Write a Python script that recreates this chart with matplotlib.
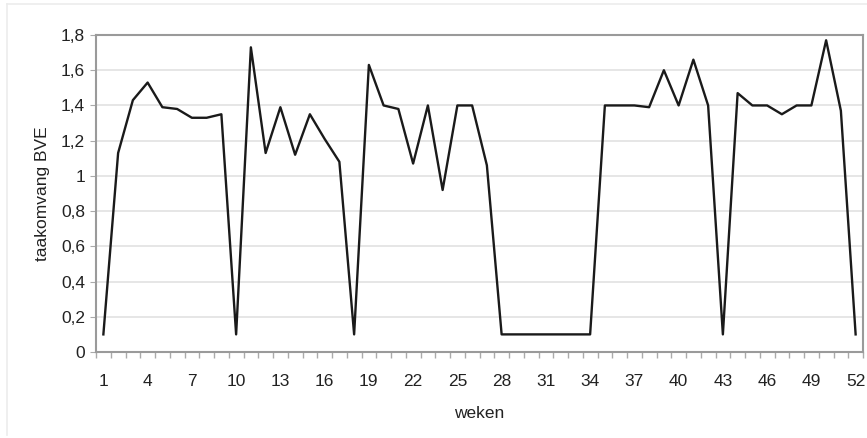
import numpy as np
import matplotlib.pyplot as plt
from matplotlib.ticker import FixedLocator, FuncFormatter
from matplotlib.lines import Line2D

plt.rcParams['font.family'] = ['Liberation Sans', 'DejaVu Sans']

# weekly values
weeks = list(range(1, 53))
bve = [0.10, 1.13, 1.43, 1.53, 1.39, 1.38, 1.33, 1.33, 1.35, 0.10,
       1.73, 1.13, 1.39, 1.12, 1.35, 1.21, 1.08, 0.10, 1.63, 1.40,
       1.38, 1.07, 1.40, 0.92, 1.40, 1.40, 1.06, 0.10, 0.10, 0.10,
       0.10, 0.10, 0.10, 0.10, 1.40, 1.40, 1.40, 1.39, 1.60, 1.40,
       1.66, 1.40, 0.10, 1.47, 1.40, 1.40, 1.35, 1.40, 1.40, 1.77,
       1.37, 0.10]
x_labels = list(range(1, 53, 3))
y_ticks = [0, 0.2, 0.4, 0.6, 0.8, 1.0, 1.2, 1.4, 1.6, 1.8]


def nl_fmt(v, pos):
    s = ('%.1f' % v).replace('.', ',')
    if s.endswith(',0'):
        s = s[:-2]
    return s


def main():
    fig = plt.figure(figsize=(8.67, 4.38), dpi=100)

    # faint outer frame of the original chart area (top and left edge)
    fig.add_artist(Line2D([7 / 867, 7 / 867], [1 - 435 / 438, 1 - 4 / 438],
                          transform=fig.transFigure, color='#ececec', linewidth=1.2))
    fig.add_artist(Line2D([7 / 867, 1.0], [1 - 4 / 438, 1 - 4 / 438],
                          transform=fig.transFigure, color='#ececec', linewidth=1.2))

    ax = fig.add_axes([96 / 867, (438 - 352) / 438, (863 - 96) / 867, (352 - 35) / 438])

    ax.plot(weeks, bve, color='#1a1a1a', linewidth=1.7)

    ax.set_xlim(0.5, 52.5)
    ax.set_ylim(0, 1.8)

    ax.set_yticks(y_ticks)
    ax.yaxis.set_major_formatter(FuncFormatter(nl_fmt))
    ax.set_xticks(x_labels)
    ax.set_xticklabels([str(w) for w in x_labels])
    ax.xaxis.set_minor_locator(FixedLocator(np.arange(0.5, 53, 1)))

    fs = 12.5
    ax.tick_params(axis='x', which='major', length=0, pad=16, labelsize=fs, colors='#222222')
    ax.tick_params(axis='x', which='minor', length=4, color='#aaaaaa', width=1)
    ax.tick_params(axis='y', length=4, color='#aaaaaa', labelsize=fs, colors='#222222', pad=4)

    ax.grid(axis='y', color='#e2e2e2', linewidth=1.2)
    ax.set_axisbelow(True)
    for sp in ax.spines.values():
        sp.set_color('#9a9a9a')
        sp.set_linewidth(1.5)

    ax.set_xlabel('weken', fontsize=fs, color='#222222', labelpad=12)
    ax.set_ylabel('taakomvang BVE', fontsize=fs, color='#222222', labelpad=8)

    fig.savefig('out.png', dpi=100)
    plt.close(fig)


if __name__ == '__main__':
    main()
